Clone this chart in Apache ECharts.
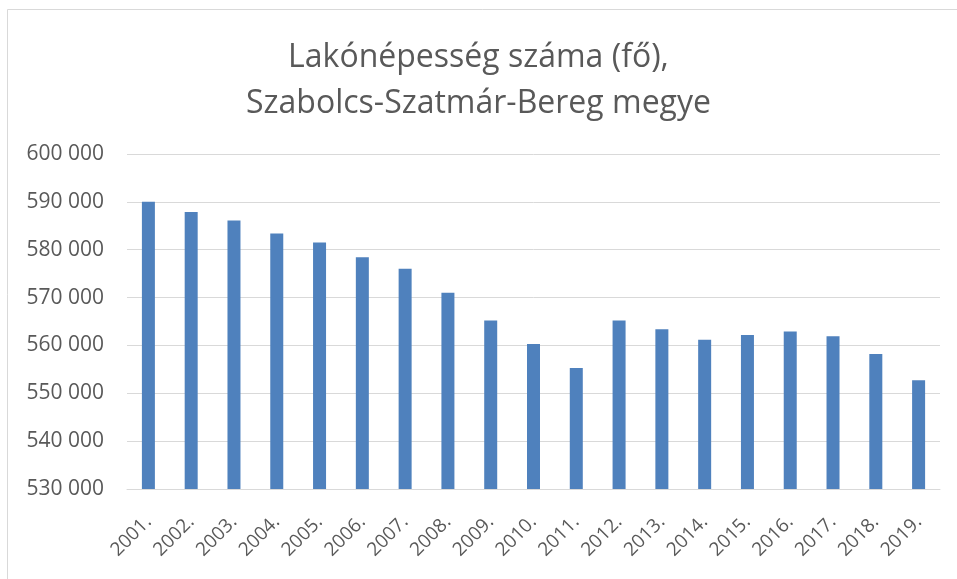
<!DOCTYPE html>
<html>
<head>
<meta charset="utf-8">
<script src="https://cdn.jsdelivr.net/npm/echarts@6/dist/echarts.min.js"></script>
<style>
  html, body { margin: 0; padding: 0; background: #fff; }
  #chart { width: 957px; height: 579px; }
</style>
</head>
<body>
<div id="chart"></div>
<script>
// Lakónépesség, Szabolcs-Szatmár-Bereg megye
const years = ['2001.', '2002.', '2003.', '2004.', '2005.', '2006.', '2007.', '2008.', '2009.', '2010.',
  '2011.', '2012.', '2013.', '2014.', '2015.', '2016.', '2017.', '2018.', '2019.'];
const population = [590000, 587900, 586100, 583400, 581500, 578400, 576000, 571000, 565200, 560300,
  555300, 565200, 563400, 561200, 562200, 562900, 561900, 558200, 552700];
const titleLines = ['Lakónépesség száma (fő),', 'Szabolcs-Szatmár-Bereg megye'];

const chart = echarts.init(document.getElementById('chart'));

const fontFamily = 'Open Sans, Lato, sans-serif';
const textColor = '#595959';

chart.setOption({
  backgroundColor: '#fff',
  animation: false,
  title: {
    text: titleLines.join('\n'),
    left: 'center',
    top: 30,
    textStyle: {
      fontFamily: fontFamily,
      fontSize: 32,
      fontWeight: 'normal',
      color: textColor,
      lineHeight: 46
    }
  },
  graphic: [{
    type: 'rect',
    shape: { x: 7.5, y: 9.5, width: 1000, height: 700 },
    style: { fill: 'none', stroke: '#d9d9d9', lineWidth: 1 },
    silent: true
  }],
  grid: {
    left: 127,
    right: 17,
    top: 154,
    bottom: 90
  },
  xAxis: {
    type: 'category',
    data: years,
    axisTick: { show: false },
    axisLine: { lineStyle: { color: '#d9d9d9' } },
    axisLabel: {
      rotate: 45,
      margin: 30,
      fontFamily: fontFamily,
      fontSize: 19,
      color: textColor
    }
  },
  yAxis: {
    type: 'value',
    min: 530000,
    max: 600000,
    interval: 10000,
    axisLine: { show: false },
    axisTick: { show: false },
    splitLine: { lineStyle: { color: '#d9d9d9', width: 1 } },
    axisLabel: {
      margin: 23,
      fontFamily: fontFamily,
      fontSize: 21,
      color: textColor,
      formatter: v => String(v).replace(/\B(?=(\d{3})+(?!\d))/g, ' ')
    }
  },
  series: [{
    type: 'bar',
    data: population,
    barWidth: 13,
    itemStyle: { color: '#4f81bd' }
  }]
});
</script>
</body>
</html>
